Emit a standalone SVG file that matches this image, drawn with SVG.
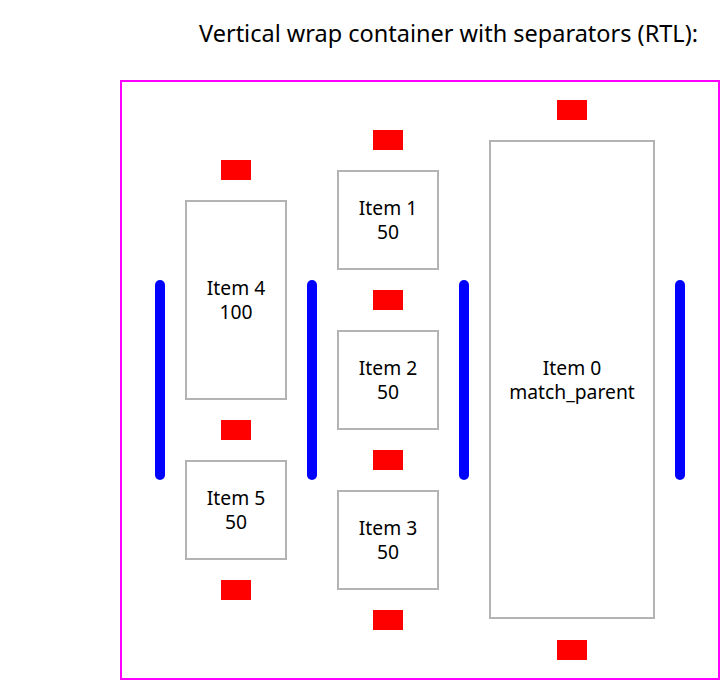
<svg xmlns="http://www.w3.org/2000/svg" width="720" height="680" viewBox="0 0 720 680">
<style>
.item{fill:#fff;stroke:#b3b3b3;stroke-width:2}
.sep{fill:#f00}
.bar{stroke:#00f;stroke-width:10;stroke-linecap:round}
text{font-family:"Noto Sans","Open Sans",sans-serif;font-size:19.3px;fill:#000;text-anchor:middle}
</style>
<rect width="720" height="680" fill="#fff"/>
<text x="698" y="42" style="font-size:23.5px;text-anchor:end">Vertical wrap container with separators (RTL):</text>
<g id="container"><rect x="121" y="81" width="598" height="598" fill="none" stroke="#f0f" stroke-width="2"/></g>
<g id="connectors">
<line class="bar" x1="160" y1="285" x2="160" y2="475"/>
<line class="bar" x1="312" y1="285" x2="312" y2="475"/>
<line class="bar" x1="464" y1="285" x2="464" y2="475"/>
<line class="bar" x1="680" y1="285" x2="680" y2="475"/>
<rect class="sep" x="557" y="100" width="30" height="20"/>
<rect class="sep" x="557" y="640" width="30" height="20"/>
<rect class="sep" x="373" y="130" width="30" height="20"/>
<rect class="sep" x="373" y="290" width="30" height="20"/>
<rect class="sep" x="373" y="450" width="30" height="20"/>
<rect class="sep" x="373" y="610" width="30" height="20"/>
<rect class="sep" x="221" y="160" width="30" height="20"/>
<rect class="sep" x="221" y="420" width="30" height="20"/>
<rect class="sep" x="221" y="580" width="30" height="20"/>
</g>
<g id="item0"><rect class="item" x="490" y="141" width="164" height="477"/><text x="572" y="375">Item 0</text><text x="572" y="399">match_parent</text></g>
<g id="item1"><rect class="item" x="338" y="171" width="100" height="98"/><text x="388" y="215">Item 1</text><text x="388" y="239">50</text></g>
<g id="item2"><rect class="item" x="338" y="331" width="100" height="98"/><text x="388" y="375">Item 2</text><text x="388" y="399">50</text></g>
<g id="item3"><rect class="item" x="338" y="491" width="100" height="98"/><text x="388" y="535">Item 3</text><text x="388" y="559">50</text></g>
<g id="item4"><rect class="item" x="186" y="201" width="100" height="198"/><text x="236" y="295">Item 4</text><text x="236" y="319">100</text></g>
<g id="item5"><rect class="item" x="186" y="461" width="100" height="98"/><text x="236" y="505">Item 5</text><text x="236" y="529">50</text></g>
</svg>
